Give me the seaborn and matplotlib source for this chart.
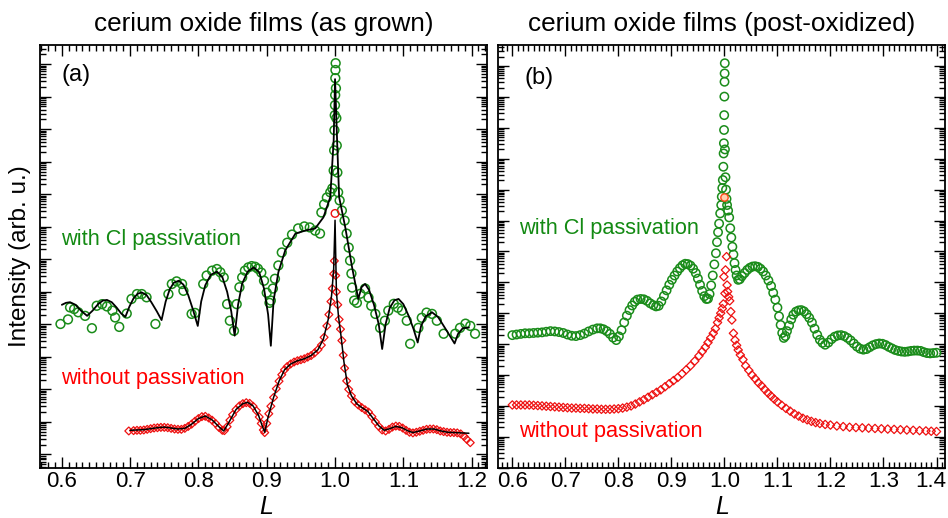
import numpy as np
import matplotlib
matplotlib.use("Agg")
import matplotlib.pyplot as plt
from matplotlib.ticker import MultipleLocator, LogLocator, NullFormatter, FormatStrFormatter
from matplotlib.transforms import ScaledTranslation
import seaborn as sns

# ---------------- data (L, log10 intensity) ----------------
# panel (a): as grown
green_a = [(0.598,4.01),(0.609,4.15),(0.612,4.52),(0.618,4.47),(0.624,4.37),(0.634,4.26),(0.644,3.88),
           (0.651,4.57),(0.659,4.62),(0.666,4.55),(0.674,4.42),(0.678,4.21),(0.684,3.92),(0.695,4.33),
           (0.702,4.78),(0.710,4.93),(0.717,4.93),(0.724,4.83),(0.737,4.01),(0.756,4.93),(0.761,5.24),
           (0.768,5.32),(0.776,5.24),(0.778,5.03),(0.790,4.32),(0.795,4.35),(0.807,5.24),(0.812,5.50),
           (0.820,5.65),(0.827,5.70),(0.832,5.60),(0.837,5.44),(0.842,4.62),(0.846,4.11),(0.852,3.80),
           (0.856,4.62),(0.860,5.14),(0.864,5.44),(0.868,5.65),(0.873,5.75),(0.878,5.79),(0.883,5.77),
           (0.887,5.71),(0.892,5.59),(0.896,5.34),(0.900,4.97),(0.904,4.66),(0.906,4.73),(0.909,5.10),
           (0.912,5.40),(0.917,5.81),(0.922,6.21),(0.930,6.51),(0.937,6.76),(0.946,6.95),(0.955,7.01),
           (0.963,6.98),(0.971,6.88),(0.978,6.79),(0.980,7.44),(0.984,7.69),(0.988,7.90),(0.993,8.06),
           (0.996,8.18),(0.998,8.73),(0.9987,9.35),(0.9991,9.97),(0.9996,10.43),(0.9999,10.74),
           (1.0002,11.05),(1.0004,11.57),(1.0006,11.82),(1.0009,12.03),(1.0013,11.26),(1.0019,10.34),
           (1.0025,9.50),(1.0034,8.67),(1.0045,8.06),(1.0067,7.81),(1.010,7.50),(1.014,7.19),(1.017,6.79),
           (1.020,6.36),(1.022,5.96),(1.024,5.56),(1.025,5.13),(1.028,4.73),(1.032,4.66),(1.037,4.94),
           (1.044,5.10),(1.049,4.82),(1.053,4.57),(1.059,4.32),(1.066,3.89),(1.073,4.11),(1.078,4.42),
           (1.086,4.63),(1.092,4.51),(1.098,4.42),(1.105,4.11),(1.110,3.40),(1.122,3.89),(1.127,4.20),
           (1.134,4.36),(1.142,4.32),(1.149,4.11),(1.159,3.71),(1.176,3.71),(1.183,3.89),(1.191,4.02),
           (1.198,3.95),(1.205,3.71)]

fit_green_a = [(0.600,4.60),(0.606,4.66),(0.612,4.68),(0.620,4.60),(0.628,4.42),(0.637,4.26),(0.645,4.42),
               (0.653,4.62),(0.660,4.73),(0.666,4.75),(0.673,4.68),(0.680,4.52),(0.687,4.33),(0.693,4.23),
               (0.699,4.55),(0.705,4.80),(0.711,4.94),(0.717,4.98),(0.724,4.90),(0.731,4.68),(0.739,4.40),
               (0.746,4.13),(0.752,4.70),(0.758,5.08),(0.764,5.28),(0.771,5.34),(0.778,5.22),(0.785,4.90),
               (0.792,4.45),(0.799,3.95),(0.804,4.70),(0.810,5.20),(0.818,5.52),(0.827,5.62),(0.835,5.45),
               (0.842,5.00),(0.848,4.40),(0.853,3.65),(0.858,4.60),(0.864,5.25),(0.872,5.62),(0.881,5.75),
               (0.889,5.60),(0.896,5.10),(0.902,4.30),(0.906,3.34),(0.910,4.73),(0.917,5.60),(0.927,6.27),
               (0.942,6.79),(0.956,6.88),(0.971,6.95),(0.983,7.29),(0.993,7.91),(0.998,9.66),(1.000,11.54),
               (1.003,9.66),(1.006,7.91),(1.015,6.98),(1.025,5.75),(1.034,4.78),(1.039,5.15),(1.044,5.24),
               (1.050,5.05),(1.057,4.60),(1.064,4.00),(1.069,3.24),(1.074,4.00),(1.080,4.50),(1.087,4.74),
               (1.093,4.78),(1.100,4.62),(1.108,4.25),(1.115,3.85),(1.121,3.44),(1.126,3.95),(1.133,4.25),
               (1.142,4.37),(1.151,4.22),(1.160,3.92),(1.168,3.65),(1.175,3.41),(1.180,3.70),(1.187,3.88),
               (1.196,3.90)]

red_a = [(0.698,0.72),(0.705,0.73),(0.710,0.74),(0.715,0.74),(0.720,0.75),(0.725,0.77),(0.730,0.79),
         (0.735,0.81),(0.740,0.82),(0.745,0.83),(0.750,0.83),(0.755,0.82),(0.760,0.80),(0.765,0.78),
         (0.770,0.77),(0.775,0.77),(0.780,0.80),(0.785,0.86),(0.790,0.93),(0.795,1.02),(0.800,1.10),
         (0.805,1.16),(0.810,1.17),(0.815,1.12),(0.820,1.05),(0.825,0.95),(0.830,0.83),(0.835,0.74),
         (0.838,0.73),(0.842,0.85),(0.846,1.05),(0.850,1.22),(0.855,1.38),(0.860,1.49),(0.865,1.56),
         (0.870,1.59),(0.875,1.57),(0.880,1.48),(0.885,1.34),(0.889,1.15),(0.892,0.95),(0.895,0.75),
         (0.897,0.67),(0.900,0.95),(0.903,1.25),(0.906,1.48),(0.910,1.75),(0.914,2.02),(0.918,2.25),
         (0.922,2.45),(0.926,2.60),(0.930,2.70),(0.935,2.78),(0.940,2.84),(0.945,2.88),(0.950,2.91),
         (0.955,2.94),(0.960,2.99),(0.965,3.04),(0.970,3.12),(0.975,3.22),(0.980,3.36),(0.984,3.60),
         (0.988,3.95),(0.991,4.30),(0.994,4.70),(0.996,5.10),(0.998,5.55),(0.999,5.95),
         (1.001,5.50),(1.002,5.00),(1.004,4.60),(1.006,4.15),(1.008,3.85),(1.010,3.50),(1.012,3.05),
         (1.014,2.65),(1.017,2.26),(1.020,2.00),(1.024,1.80),(1.029,1.62),(1.034,1.52),(1.039,1.44),
         (1.044,1.37),(1.049,1.30),(1.054,1.16),(1.059,1.00),(1.064,0.86),(1.069,0.75),(1.074,0.72),
         (1.079,0.77),(1.084,0.84),(1.089,0.87),(1.094,0.86),(1.099,0.81),(1.104,0.74),(1.109,0.68),
         (1.114,0.66),(1.119,0.68),(1.124,0.71),(1.129,0.74),(1.134,0.77),(1.139,0.78),(1.144,0.78),
         (1.149,0.76),(1.154,0.72),(1.159,0.70),(1.164,0.68),(1.169,0.67),(1.174,0.67),(1.179,0.66),
         (1.184,0.63),(1.189,0.55),(1.193,0.46),(1.198,0.36)]
red_a_top = [(1.000, 7.41)]

fit_red_a = [(0.700,0.74),(0.710,0.75),(0.720,0.76),(0.730,0.79),(0.740,0.82),(0.750,0.84),(0.760,0.81),
             (0.770,0.78),(0.780,0.80),(0.790,0.93),(0.800,1.10),(0.810,1.18),(0.820,1.06),(0.830,0.85),
             (0.837,0.72),(0.845,1.00),(0.855,1.38),(0.865,1.56),(0.872,1.60),(0.880,1.49),(0.888,1.20),
             (0.893,0.90),(0.897,0.68),(0.902,1.15),(0.910,1.75),(0.918,2.25),(0.926,2.60),(0.935,2.78),
             (0.945,2.88),(0.955,2.94),(0.965,3.04),(0.975,3.22),(0.983,3.55),(0.990,4.15),(0.995,4.90),
             (0.998,5.70),(1.000,7.20),(1.002,5.00),(1.005,4.25),(1.009,3.60),(1.013,2.85),(1.018,2.15),
             (1.024,1.80),(1.032,1.55),(1.040,1.43),(1.048,1.32),(1.056,1.10),(1.064,0.88),(1.072,0.74),
             (1.080,0.79),(1.089,0.86),(1.098,0.82),(1.106,0.73),(1.114,0.67),(1.124,0.72),(1.135,0.78),
             (1.145,0.78),(1.155,0.72),(1.165,0.68),(1.175,0.67),(1.185,0.66),(1.196,0.65)]

# panel (b): post-oxidized
green_b = [(0.600,4.29),(0.608,4.31),(0.616,4.33),(0.624,4.35),(0.632,4.35),(0.640,4.36),(0.648,4.37),
           (0.656,4.38),(0.664,4.40),(0.672,4.42),(0.680,4.41),(0.688,4.39),(0.696,4.36),(0.704,4.31),
           (0.712,4.27),(0.720,4.26),(0.728,4.29),(0.736,4.34),(0.744,4.41),(0.752,4.47),(0.760,4.51),
           (0.766,4.51),(0.772,4.48),(0.778,4.42),(0.784,4.33),(0.790,4.21),(0.796,4.13),(0.801,4.25),
           (0.806,4.45),(0.811,4.70),(0.816,4.92),(0.821,5.10),(0.826,5.25),(0.831,5.37),(0.836,5.44),
           (0.842,5.46),(0.848,5.45),(0.854,5.40),(0.860,5.32),(0.866,5.26),(0.871,5.22),(0.876,5.24),
           (0.881,5.38),(0.886,5.56),(0.891,5.74),(0.896,5.92),(0.901,6.08),(0.906,6.22),(0.911,6.35),
           (0.916,6.46),(0.921,6.55),(0.926,6.60),(0.931,6.59),(0.936,6.54),(0.941,6.44),(0.946,6.30),
           (0.950,6.12),(0.954,5.92),(0.958,5.72),(0.962,5.55),(0.966,5.46),(0.969,5.47),(0.972,5.62),
           (0.975,5.90),(0.978,6.22),(0.981,6.58),(0.984,6.94),(0.986,7.30),(0.988,7.62),(0.990,7.90),
           (0.992,8.23),(0.994,8.50),(0.995,8.77),(0.996,9.05),(0.997,9.31),(0.998,9.74),(0.9985,10.17),
           (0.999,10.50),(0.9993,10.93),(0.9996,11.41),(0.9999,12.01),(1.0002,12.49),(1.0004,12.76),
           (1.0007,13.09),(1.001,10.30),(1.002,9.40),(1.003,9.00),(1.004,8.70),(1.005,8.50),(1.007,8.32),
           (1.009,8.10),(1.011,7.75),(1.013,7.45),(1.015,7.15),(1.017,6.90),(1.019,6.62),(1.021,6.40),
           (1.023,6.22),(1.026,6.08),(1.029,6.10),(1.033,6.20),(1.038,6.30),(1.043,6.40),(1.048,6.47),
           (1.053,6.51),(1.058,6.52),(1.063,6.50),(1.068,6.44),(1.073,6.35),(1.078,6.22),(1.083,6.06),
           (1.088,5.88),(1.092,5.66),(1.096,5.44),(1.100,5.18),(1.103,4.90),(1.106,4.62),(1.109,4.36),
           (1.112,4.20),(1.115,4.26),(1.118,4.42),(1.122,4.60),(1.126,4.80),(1.130,4.95),(1.135,5.05),
           (1.140,5.09),(1.145,5.10),(1.150,5.06),(1.155,4.97),(1.160,4.85),(1.165,4.70),(1.170,4.50),
           (1.175,4.30),(1.180,4.14),(1.185,4.04),(1.190,3.98),(1.196,4.05),(1.202,4.16),(1.208,4.24),
           (1.214,4.28),(1.220,4.29),(1.226,4.26),(1.232,4.20),(1.238,4.12),(1.244,4.02),(1.250,3.92),
           (1.256,3.85),(1.262,3.82),(1.268,3.84),(1.274,3.90),(1.280,3.96),(1.286,4.00),(1.292,4.02),
           (1.298,4.01),(1.304,3.97),(1.310,3.91),(1.316,3.86),(1.322,3.81),(1.328,3.78),(1.334,3.76),
           (1.340,3.75),(1.346,3.76),(1.352,3.78),(1.358,3.79),(1.364,3.79),(1.370,3.78),(1.376,3.74),
           (1.382,3.71),(1.388,3.70),(1.394,3.71),(1.400,3.72)]

red_b = [(0.600,2.03),(0.608,2.03),(0.616,2.03),(0.624,2.03),(0.632,2.03),(0.640,2.02),(0.648,2.01),
         (0.656,2.00),(0.664,1.99),(0.672,1.98),(0.680,1.97),(0.688,1.96),(0.696,1.95),(0.704,1.94),
         (0.712,1.93),(0.720,1.93),(0.728,1.92),(0.736,1.92),(0.744,1.91),(0.752,1.90),(0.760,1.90),
         (0.768,1.89),(0.776,1.89),(0.784,1.89),(0.792,1.90),(0.800,1.91),(0.808,1.93),(0.816,1.96),
         (0.824,2.00),(0.832,2.06),(0.840,2.13),(0.848,2.20),(0.856,2.28),(0.864,2.36),(0.872,2.44),
         (0.880,2.52),(0.888,2.62),(0.896,2.72),(0.904,2.82),(0.912,2.92),(0.920,3.04),(0.928,3.17),
         (0.936,3.30),(0.944,3.45),(0.952,3.62),(0.958,3.76),(0.964,3.90),(0.969,4.05),(0.974,4.20),
         (0.979,4.35),(0.983,4.50),(0.987,4.70),(0.990,4.85),(0.993,5.00),(0.996,5.15),(0.998,5.30),
         (0.999,6.18),(1.001,5.64),(1.002,6.40),(1.004,6.83),(1.005,5.91),(1.006,5.70),
         (1.008,5.53),(1.010,5.40),(1.012,5.05),(1.014,4.78),(1.017,4.35),(1.020,4.13),(1.023,3.96),
         (1.026,3.81),(1.030,3.65),(1.035,3.50),(1.040,3.30),(1.046,3.15),(1.052,3.00),(1.058,2.88),
         (1.064,2.75),(1.070,2.65),(1.076,2.53),(1.082,2.42),(1.088,2.32),(1.094,2.22),(1.100,2.13),
         (1.108,2.02),(1.116,1.92),(1.124,1.83),(1.132,1.74),(1.140,1.67),(1.148,1.60),(1.156,1.55),
         (1.164,1.50),(1.172,1.46),(1.180,1.43),(1.190,1.40),(1.200,1.38),(1.212,1.35),(1.224,1.33),
         (1.236,1.31),(1.248,1.30),(1.260,1.29),(1.272,1.28),(1.284,1.27),(1.296,1.26),(1.308,1.25),
         (1.320,1.24),(1.332,1.23),(1.344,1.22),(1.356,1.21),(1.368,1.20),(1.380,1.19),(1.390,1.18),
         (1.400,1.17)]
red_b_top = [(1.000, 8.77)]

titles = ["cerium oxide films (as grown)", "cerium oxide films (post-oxidized)"]
panel_tags = ["(a)", "(b)"]
label_with = "with Cl passivation"
label_without = "without passivation"
xlabel_text = r"$L$"
xticks_a = [0.6, 0.7, 0.8, 0.9, 1.0, 1.1, 1.2]
xticks_b = [0.6, 0.7, 0.8, 0.9, 1.0, 1.1, 1.2, 1.3, 1.4]

GREEN = "#1a8c1a"
GREEN_TXT = "#138a13"
RED = "#ee1111"
RED_TXT = "#ff0000"

sns.set_theme(style="ticks")
plt.rcParams['font.family'] = ['Liberation Sans', 'DejaVu Sans']
plt.rcParams['text.color'] = 'black'
plt.rcParams['axes.labelcolor'] = 'black'
plt.rcParams['xtick.color'] = 'black'
plt.rcParams['ytick.color'] = 'black'
plt.rcParams['axes.edgecolor'] = 'black'
plt.rcParams['mathtext.fontset'] = 'custom'
plt.rcParams['mathtext.it'] = 'Liberation Sans:italic'
plt.rcParams['mathtext.rm'] = 'Liberation Sans'


def xy(pts):
    x = np.array([p[0] for p in pts])
    y = 10.0 ** np.array([p[1] for p in pts])
    return x, y


fig = plt.figure(figsize=(9.48, 5.18), dpi=100)
ax_a = fig.add_axes([40/948, (518-467.7)/518, 447/948, 422.7/518])
ax_b = fig.add_axes([498/948, (518-467.7)/518, 447/948, 422.7/518])

for ax in (ax_a, ax_b):
    ax.set_yscale("log")

# panel (a)
x, y = xy(green_a)
sns.scatterplot(x=x, y=y, ax=ax_a, marker="o", s=40, color=GREEN, facecolor="none",
                edgecolor=GREEN, linewidth=1.1, zorder=2)
x, y = xy(red_a)
sns.scatterplot(x=x, y=y, ax=ax_a, marker="D", s=16, color=RED, facecolor="none",
                edgecolor=RED, linewidth=0.9, zorder=2)
x, y = xy(red_a_top)
sns.scatterplot(x=x, y=y, ax=ax_a, marker="o", s=30, color=RED, facecolor="none",
                edgecolor=RED, linewidth=1.0, zorder=4)
x, y = xy(fit_green_a)
sns.lineplot(x=x, y=y, ax=ax_a, color="black", linewidth=1.3, estimator=None, sort=False, zorder=3)
x, y = xy(fit_red_a)
sns.lineplot(x=x, y=y, ax=ax_a, color="black", linewidth=1.1, estimator=None, sort=False, zorder=3)

# panel (b)
x, y = xy(green_b)
sns.scatterplot(x=x, y=y, ax=ax_b, marker="o", s=36, color=GREEN, facecolor="none",
                edgecolor=GREEN, linewidth=1.1, zorder=2)
x, y = xy(red_b)
sns.scatterplot(x=x, y=y, ax=ax_b, marker="D", s=18, color=RED, facecolor="none",
                edgecolor=RED, linewidth=0.9, zorder=3)
x, y = xy(red_b_top)
sns.scatterplot(x=x, y=y, ax=ax_b, marker="o", s=28, color="#ff6a2a", facecolor="#ffd0b0",
                edgecolor="#ff4a1a", linewidth=1.0, zorder=4)

ax_a.set_xlim(0.568, 1.2225)
ax_a.set_ylim(10**-0.41, 10**12.59)
ax_b.set_xlim(0.573, 1.416)
ax_b.set_ylim(10**0.0, 10**13.68)
ax_a.set_xticks(xticks_a)
ax_b.set_xticks(xticks_b)

for ax, title in zip((ax_a, ax_b), titles):
    ax.xaxis.set_minor_locator(MultipleLocator(0.01))
    ax.xaxis.set_major_formatter(FormatStrFormatter('%.1f'))
    ax.yaxis.set_major_locator(LogLocator(base=10, numticks=100))
    ax.yaxis.set_minor_locator(LogLocator(base=10, subs=np.arange(2, 10), numticks=100))
    ax.yaxis.set_minor_formatter(NullFormatter())
    ax.tick_params(which="both", direction="in", top=True, right=True, left=True, bottom=True,
                   labelleft=False, color="black", labelcolor="black", width=1.0)
    ax.tick_params(which="major", length=8, pad=2.5, labelsize=16)
    ax.tick_params(which="minor", length=4)
    for sp in ax.spines.values():
        sp.set_visible(True)
        sp.set_linewidth(1.3)
        sp.set_color("black")
    ax.set_xlabel("")
    ax.set_ylabel("")
    ax.set_title(title, fontsize=18.8, pad=10, color="black")
    ax.grid(False)

# keep the last tick label of panel (b) inside the figure, as in the reference
last_tick = ax_b.xaxis.get_major_ticks()[-1]
last_tick.label1.set_transform(last_tick.label1.get_transform() +
                               ScaledTranslation(-6/100, 0, fig.dpi_scale_trans))

ax_a.text(0.049, 0.929, panel_tags[0], transform=ax_a.transAxes, fontsize=17, va="center", ha="left", color="black")
ax_b.text(0.060, 0.921, panel_tags[1], transform=ax_b.transAxes, fontsize=17, va="center", ha="left", color="black")
ax_a.text(0.047, 0.539, label_with, transform=ax_a.transAxes, fontsize=15.7, color=GREEN_TXT, va="center", ha="left")
ax_a.text(0.047, 0.2115, label_without, transform=ax_a.transAxes, fontsize=15.7, color=RED_TXT, va="center", ha="left")
ax_b.text(0.047, 0.566, label_with, transform=ax_b.transAxes, fontsize=15.7, color=GREEN_TXT, va="center", ha="left")
ax_b.text(0.047, 0.085, label_without, transform=ax_b.transAxes, fontsize=15.7, color=RED_TXT, va="center", ha="left")

fig.text(20/948, 1-256/518, "Intensity (arb. u.)", rotation=90, fontsize=17.5, va="center", ha="center", color="black")
fig.text(266/948, 1-507.5/518, xlabel_text, fontsize=18, va="center", ha="center", color="black")
fig.text(722/948, 1-507.5/518, xlabel_text, fontsize=18, va="center", ha="center", color="black")

fig.savefig("out.png", dpi=100)
